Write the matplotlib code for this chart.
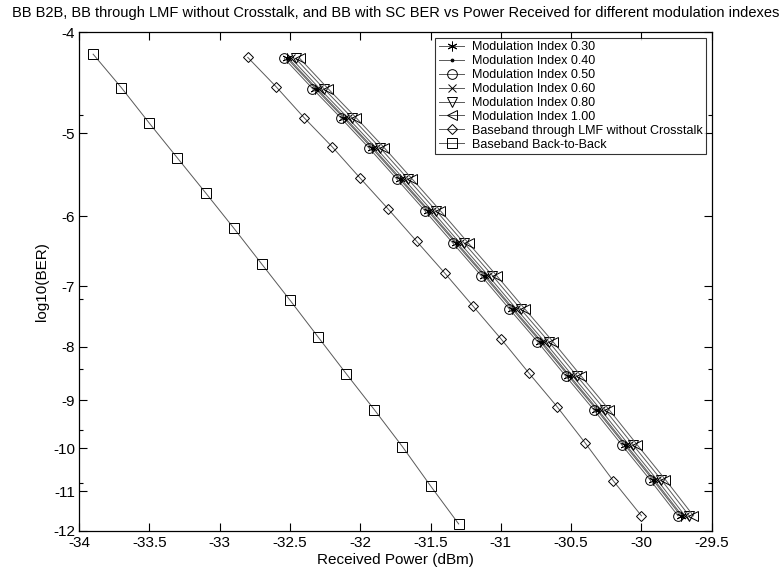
import numpy as np
import matplotlib
matplotlib.use('Agg')
import matplotlib.pyplot as plt
from matplotlib.ticker import FixedLocator

plt.rcParams['font.family'] = ['Liberation Sans', 'DejaVu Sans']
plt.rcParams['axes.unicode_minus'] = False

# Baseband back-to-back
b2b_power = [-33.9, -33.7, -33.5, -33.3, -33.1, -32.9, -32.7, -32.5, -32.3, -32.1, -31.9, -31.7, -31.5, -31.3]
b2b_logber = [-4.20, -4.52, -4.89, -5.28, -5.70, -6.16, -6.67, -7.22, -7.83, -8.49, -9.19, -9.97, -10.87, -11.82]

# Baseband through LMF without crosstalk
lmf_power = [-32.8, -32.6, -32.4, -32.2, -32.0, -31.8, -31.6, -31.4, -31.2, -31.0, -30.8, -30.6, -30.4, -30.2, -30.0]
lmf_logber = [-4.23, -4.51, -4.83, -5.15, -5.52, -5.91, -6.34, -6.80, -7.31, -7.86, -8.48, -9.13, -9.89, -10.75, -11.61]

# BB with SC, one power list per modulation index
mod_logber = [-4.24, -4.53, -4.83, -5.16, -5.53, -5.93, -6.37, -6.84, -7.36, -7.91, -8.53, -9.19, -9.93, -10.72, -11.61]
mod_030 = [-32.52, -32.32, -32.12, -31.92, -31.72, -31.52, -31.32, -31.12, -30.92, -30.72, -30.52, -30.32, -30.12, -29.92, -29.72]
mod_040 = [-32.51, -32.31, -32.11, -31.91, -31.71, -31.51, -31.31, -31.11, -30.91, -30.71, -30.51, -30.31, -30.11, -29.91, -29.71]
mod_050 = [-32.54, -32.34, -32.14, -31.94, -31.74, -31.54, -31.34, -31.14, -30.94, -30.74, -30.54, -30.34, -30.14, -29.94, -29.74]
mod_060 = [-32.49, -32.29, -32.09, -31.89, -31.69, -31.49, -31.29, -31.09, -30.89, -30.69, -30.49, -30.29, -30.09, -29.89, -29.69]
mod_080 = [-32.46, -32.26, -32.06, -31.86, -31.66, -31.46, -31.26, -31.06, -30.86, -30.66, -30.46, -30.26, -30.06, -29.86, -29.66]
mod_100 = [-32.43, -32.23, -32.03, -31.83, -31.63, -31.43, -31.23, -31.03, -30.83, -30.63, -30.43, -30.23, -30.03, -29.83, -29.63]

mod_labels = ['Modulation Index 0.30', 'Modulation Index 0.40', 'Modulation Index 0.50',
              'Modulation Index 0.60', 'Modulation Index 0.80', 'Modulation Index 1.00']

x_ticks = [-34, -33.5, -33, -32.5, -32, -31.5, -31, -30.5, -30, -29.5]
x_ticklabels = ['-34', '-33.5', '-33', '-32.5', '-32', '-31.5', '-31', '-30.5', '-30', '-29.5']
y_ticks = [-12, -11, -10, -9, -8, -7, -6, -5, -4]
y_minor = [-10.8, -9.6, -8.4, -7.2, -4.8]


def fwd(y):
    return -np.log10(np.clip(-np.asarray(y, dtype=float), 1e-6, None))


def inv(u):
    return -10.0 ** (-np.asarray(u, dtype=float))


fig = plt.figure(figsize=(7.83, 5.72), dpi=100)
ax = fig.add_axes([0.101, 0.072, 0.808, 0.872])

line_kw = dict(color='0.35', linewidth=0.7, markeredgecolor='black',
               markerfacecolor='none', markeredgewidth=0.7)

mod_series = [mod_030, mod_040, mod_050, mod_060, mod_080, mod_100]
mod_markers = [(6, 2, 0), '.', 'o', 'x', 'v', '<']
mod_sizes = [7, 4, 7, 6, 7, 7]
for xs, mk, ms, lab in zip(mod_series, mod_markers, mod_sizes, mod_labels):
    kw = dict(line_kw)
    if mk == '.':
        kw['markerfacecolor'] = 'black'
    ax.plot(xs, mod_logber, marker=mk, markersize=ms, label=lab, **kw)

ax.plot(lmf_power, lmf_logber, marker='D', markersize=5.5,
        label='Baseband through LMF without Crosstalk', **line_kw)
ax.plot(b2b_power, b2b_logber, marker='s', markersize=6.5,
        label='Baseband Back-to-Back', **line_kw)

ax.set_yscale('function', functions=(fwd, inv))
ax.set_ylim(-12, -4)
ax.set_xlim(-34, -29.5)
ax.yaxis.set_major_locator(FixedLocator(y_ticks))
ax.yaxis.set_minor_locator(FixedLocator(y_minor))
ax.set_yticklabels([str(v) for v in y_ticks])
ax.set_xticks(x_ticks)
ax.set_xticklabels(x_ticklabels)
ax.xaxis.set_minor_locator(FixedLocator([]))

ax.tick_params(which='both', direction='in', top=True, right=True, labelsize=11, width=0.8, colors='black')
ax.tick_params(which='major', length=6, pad=3)
ax.tick_params(which='minor', length=3)
ax.tick_params(axis='x', which='major', pad=4)
for s in ax.spines.values():
    s.set_linewidth(0.9)

ax.set_xlabel('Received Power (dBm)', fontsize=11, labelpad=2)
ax.set_ylabel('log10(BER)', fontsize=11, labelpad=3)
ax.set_title('BB B2B, BB through LMF without Crosstalk, and BB with SC BER vs Power Received for different modulation indexes',
             fontsize=10.5, pad=11)

leg = ax.legend(loc='upper right', fontsize=9, frameon=True, fancybox=False, edgecolor='black',
                borderaxespad=0.45, handlelength=2.0, labelspacing=0.15, borderpad=0.3, handletextpad=0.6)
leg.get_frame().set_linewidth(0.8)

fig.savefig('out.png', dpi=100, facecolor='white')
